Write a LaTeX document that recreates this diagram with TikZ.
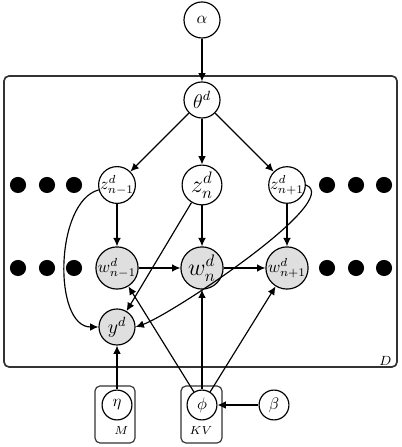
\documentclass[tikz,border=0pt]{standalone}
\usepackage{amsmath,amssymb}
\usepackage{xcolor}
\usetikzlibrary{positioning,calc,arrows.meta}

\begin{document}
\begin{tikzpicture}[x=2.11mm, y=2.11mm, >={Latex[length=5pt,width=4.6pt]}, line width=0.7pt,
  latent/.style={draw, circle, inner sep=-0.5pt, minimum size=#1},
  latent/.default=0.76cm,
  obs/.style={latent=#1, fill=gray!25},
  obs/.default=0.76cm,
  param/.style={draw, circle, inner sep=0pt, minimum size=0.63cm},
  bigdot/.style={circle, fill=black, inner sep=0pt, minimum size=0.34cm},
  plate/.style={draw=black!80, rounded corners=3pt},
  lab/.style={anchor=south east, inner sep=0pt}]
\useasboundingbox (0,0) rectangle (40.1,44.7);
% plates
\draw[plate, line width=1pt] (0.4,8.0) rectangle (39.7,37.1);
\draw[plate] (9.5,0.4) rectangle (13.5,6.1);
\draw[plate] (18.1,0.4) rectangle (22.2,6.1);
\node[lab, font=\footnotesize] (dlab) at (39.2,8.1) {$D$};
\node[lab, font=\scriptsize] (mlab) at (12.9,1.2) {$M$};
\node[lab, font=\scriptsize] (kvlab) at (21.3,1.2) {$KV$};
% variables
\node[latent] (alpha) at (20.2,42.7) {$\alpha$};
\node[latent, font=\large] (theta) at (20.2,34.7) {$\theta^d$};
\node[latent] (zp) at (11.7,26.2) {$z^d_{n-1}$};
\node[latent=0.84cm, font=\Large] (zn) at (20.2,26.2) {$z^d_n$};
\node[latent] (zq) at (28.7,26.2) {$z^d_{n+1}$};
\node[obs=0.89cm] (wp) at (11.7,17.9) {$w^d_{n-1}$};
\node[obs=0.89cm, font=\Large] (wn) at (20.2,17.9) {$w^d_n$};
\node[obs=0.89cm] (wq) at (28.7,17.9) {$w^d_{n+1}$};
\node[obs, font=\large] (y) at (11.7,12.0) {$y^d$};
\node[param] (eta) at (11.7,4.2) {$\eta$};
\node[param] (phi) at (20.2,4.2) {$\phi$};
\node[param] (beta) at (27.4,4.2) {$\beta$};
% dots
\node[bigdot] (dl1) at (1.8,26.2) {}; \node[bigdot] (dl2) at (4.7,26.2) {}; \node[bigdot] (dl3) at (7.4,26.2) {};
\node[bigdot] (dr1) at (32.7,26.2) {}; \node[bigdot] (dr2) at (35.6,26.2) {}; \node[bigdot] (dr3) at (38.4,26.2) {};
\node[bigdot] (el1) at (1.8,17.9) {}; \node[bigdot] (el2) at (4.7,17.9) {}; \node[bigdot] (el3) at (7.4,17.9) {};
\node[bigdot] (er1) at (32.7,17.9) {}; \node[bigdot] (er2) at (35.6,17.9) {}; \node[bigdot] (er3) at (38.4,17.9) {};
% edges
\draw[->] (alpha) -- (theta);
\draw[->] (theta) -- (zp);
\draw[->] (theta) -- (zn);
\draw[->] (theta) -- (zq);
\draw[->] (zp) -- (wp);
\draw[->] (zn) -- (wn);
\draw[->] (zq) -- (wq);
\draw[->] (wp) -- (wn);
\draw[->] (wn) -- (wq);
\draw[->] (zp) to[out=195, in=180, looseness=0.85] (y);
\draw[->] (zn) -- (y);
\draw[->] (zq.east) .. controls +(3.9,-1.5) and +(3.5,1.2) .. (y.east);
\draw[->] (phi) -- (wp);
\draw[->] (phi) -- (wn);
\draw[->] (phi) -- (wq);
\draw[->] (eta) -- (y);
\draw[->] (beta) -- (phi);
\end{tikzpicture}
\end{document}
